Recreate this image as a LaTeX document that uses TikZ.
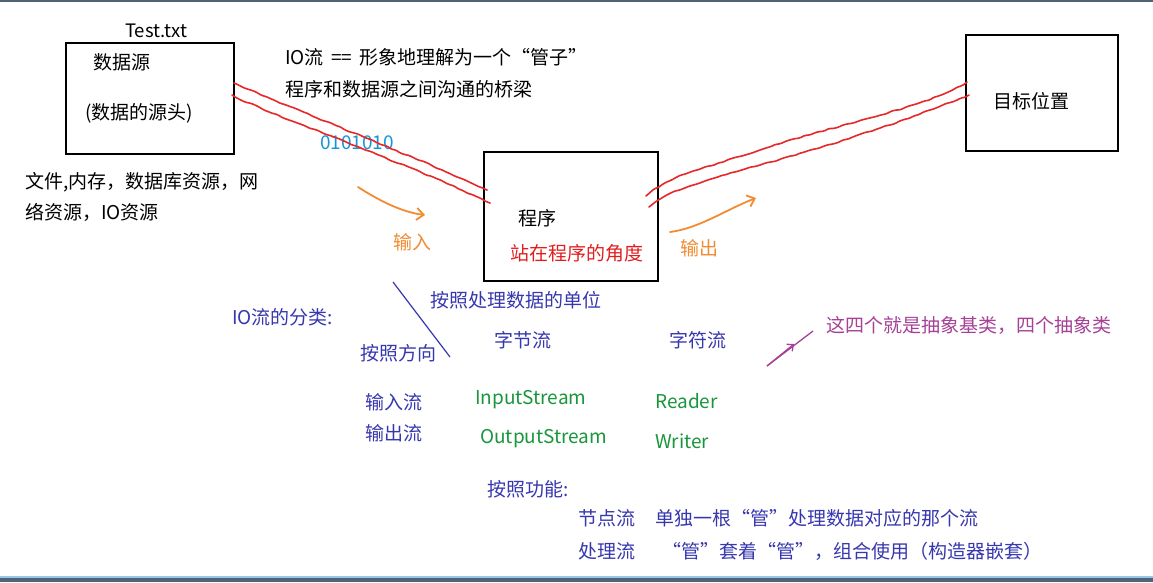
\documentclass[tikz,border=0pt]{standalone}
\usepackage{fontspec}
\setmainfont{Noto Sans CJK SC}
\usetikzlibrary{decorations.pathmorphing,arrows.meta,calc}
\definecolor{barcol}{RGB}{80,100,115}
\definecolor{barlight}{RGB}{150,200,235}
\definecolor{pipered}{RGB}{230,40,40}
\definecolor{txtred}{RGB}{225,30,30}
\definecolor{bitblue}{RGB}{20,150,220}
\definecolor{orng}{RGB}{242,140,50}
\definecolor{navy}{RGB}{55,55,175}
\definecolor{grn}{RGB}{25,150,60}
\definecolor{purp}{RGB}{165,65,150}
\begin{document}
\begin{tikzpicture}[x=1pt,y=-1pt,
  font=\fontsize{19}{23}\selectfont,
  box/.style={draw, line width=2pt, anchor=north west, inner sep=0pt},
  txt/.style={anchor=west, inner sep=0pt},
  pipe/.style={draw=pipered, line width=1.6pt, line cap=round, decorate,
    decoration={random steps, segment length=5pt, amplitude=0.7pt}, rounded corners=1.5pt},
  flowarrow/.style={draw=orng, line width=1.8pt, line cap=round, -{Straight Barb[length=7pt,width=12pt]}},
]
\pgfmathsetseed{7}
\useasboundingbox (0,0) rectangle (1153,582);
\fill[white] (0,0) rectangle (1153,582);
\fill[barcol] (0,0) rectangle (1153,2);
\fill[barlight] (0,576) rectangle (1153,578);
\fill[barcol] (0,578) rectangle (1153,582);

% boxes
\node[box, minimum width=168pt, minimum height=111pt] (src) at (65,42) {};
\node[box, minimum width=174pt, minimum height=129pt] (prog) at (483,151) {};
\node[box, minimum width=152pt, minimum height=116pt] (tgt) at (965,34) {};

% top texts
\node[txt, font=\fontsize{18.5}{22}\selectfont] (testtxt) at (125,31) {Test.txt};
\node[txt] (srcname) at (93,62) {数据源};
\node[txt] (srchead) at (85,113) {(数据的源头)};
\node[txt] (kinds1) at (25,182) {文件,内存，数据库资源，网};
\node[txt] (kinds2) at (25,212) {络资源，IO资源};
\node[txt] (io1) at (285,57) {IO流 \,==\, 形象地理解为一个“管子”};
\node[txt] (io2) at (285,89) {程序和数据源之间沟通的桥梁};
\node[txt, text=bitblue] (bits) at (320,143) {0101010};
\node[txt] (progname) at (518,218) {程序};
\node[txt, text=txtred] (view) at (510,253) {站在程序的角度};
\node[txt, text=orng] (inlbl) at (393,242) {输入};
\node[txt, text=orng] (outlbl) at (680,248) {输出};
\node[txt] (tgtname) at (993,101) {目标位置};

% pipes
\coordinate (s1) at ($(src.north east)+(-1,41)$);
\coordinate (s2) at ($(src.north east)+(-3,53)$);
\coordinate (p1) at ($(prog.north west)+(4,39)$);
\coordinate (p2) at ($(prog.north west)+(7,52)$);
\coordinate (q1) at ($(prog.north east)+(-13,45)$);
\coordinate (q2) at ($(prog.north east)+(-10,56)$);
\coordinate (t1) at ($(tgt.north west)+(2,48)$);
\coordinate (t2) at ($(tgt.north west)+(4,61)$);
\draw[pipe] (s1) .. controls (270,100) and (400,150) .. (p1);
\draw[pipe] (s2) .. controls (270,115) and (400,160) .. (p2);
\draw[pipe] (q1) .. controls (670,175) and (700,170) .. (760,150) .. controls (850,120) and (920,110) .. (t1);
\draw[pipe] (q2) .. controls (670,190) and (700,182) .. (760,165) .. controls (850,140) and (920,115) .. (t2);

% flow arrows
\coordinate (ina) at (358,187);
\coordinate (inb) at (425,215);
\coordinate (outa) at (670,232);
\coordinate (outb) at (756,198);
\draw[flowarrow] (ina) .. controls (375,198) and (400,212) .. (inb);
\draw[flowarrow] (outa) .. controls (700,228) and (725,210) .. (outb);

% classification
\begin{scope}[every node/.style={txt, text=navy}]
\node (cls) at (232,317) {IO流的分类:};
\node (unit) at (430,300) {按照处理数据的单位};
\node (dir) at (360,353) {按照方向};
\node (bytes) at (494,340) {字节流};
\node (chars) at (669,340) {字符流};
\node (instr) at (365,402) {输入流};
\node (outstr) at (365,433) {输出流};
\node (func) at (487,489) {按照功能:};
\node (nodes) at (578,518) {节点流};
\node (nodedesc) at (655,518) {单独一根“管”处理数据对应的那个流};
\node (proc) at (578,551) {处理流};
\node (procdesc) at (662,551) {“管”套着“管”，组合使用（构造器嵌套）};
\end{scope}
\begin{scope}[every node/.style={txt, text=grn}]
\node (inputs) at (475,400) {InputStream};
\node (outputs) at (480,439) {OutputStream};
\node (reader) at (655,401) {Reader};
\node (writer) at (655,441) {Writer};
\end{scope}
\node[txt, text=purp] (abs) at (826,325) {这四个就是抽象基类，四个抽象类};

\coordinate (da) at (393,282);
\coordinate (db) at (450,357);
\draw[navy, line width=1.2pt] (da) -- (db);

\coordinate (pa) at (767,366);
\coordinate (pm) at (794,344);
\coordinate (pb) at (813,331);
\draw[purp, line width=1.3pt] (pa) -- (pb);
\draw[purp, line width=1.3pt, -{Straight Barb[length=5pt,width=9pt]}] (pa) -- (pm);
\end{tikzpicture}
\end{document}
